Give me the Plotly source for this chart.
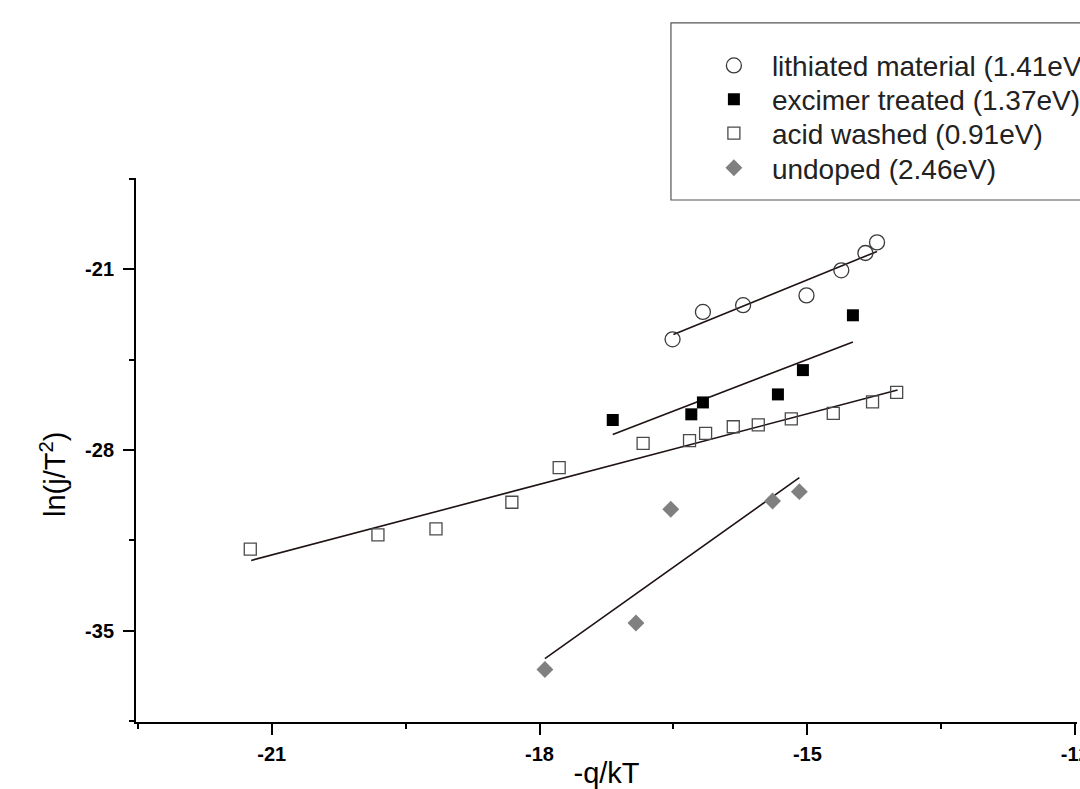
import plotly.graph_objects as go

# ---- data ----
lith_x = [-16.51, -16.17, -15.72, -15.01, -14.62, -14.35, -14.22]
lith_y = [-23.72, -22.66, -22.40, -22.02, -21.05, -20.38, -19.97]
exc_x = [-17.18, -16.30, -16.17, -15.33, -15.05, -14.49]
exc_y = [-26.84, -26.62, -26.16, -25.85, -24.91, -22.79]
acid_x = [-21.24, -19.81, -19.16, -18.31, -17.78, -16.84, -16.32, -16.14,
          -15.83, -15.55, -15.18, -14.71, -14.27, -14.00]
acid_y = [-31.83, -31.28, -31.05, -30.02, -28.68, -27.74, -27.64, -27.36,
          -27.10, -27.03, -26.80, -26.58, -26.14, -25.77]
und_x = [-17.94, -16.92, -16.53, -15.39, -15.09]
und_y = [-36.49, -34.69, -30.29, -29.97, -29.61]

# fitted straight lines (end points)
lith_fit_x = [-16.50, -14.22]
lith_fit_y = [-23.53, -20.32]
exc_fit_x = [-17.18, -14.49]
exc_fit_y = [-27.40, -23.82]
acid_fit_x = [-21.23, -13.99]
acid_fit_y = [-32.27, -25.68]
und_fit_x = [-17.94, -15.09]
und_fit_y = [-36.07, -29.07]

names = ["lithiated material (1.41eV)", "excimer treated (1.37eV)",
         "acid washed (0.91eV)", "undoped (2.46eV)"]

x_tickvals = [-21, -18, -15, -12]
x_ticktext = ["-21", "-18", "-15", "-12"]
y_tickvals = [-21, -28, -35]
y_ticktext = ["-21", "-28", "-35"]

FONT = "Arial, Liberation Sans, sans-serif"
LINE_COLOR = "#1e1212"

fig = go.Figure()

for fx, fy in [(lith_fit_x, lith_fit_y), (exc_fit_x, exc_fit_y),
               (acid_fit_x, acid_fit_y), (und_fit_x, und_fit_y)]:
    fig.add_trace(go.Scatter(x=fx, y=fy, mode="lines", showlegend=False,
                             line=dict(color=LINE_COLOR, width=1.6),
                             hoverinfo="skip"))

fig.add_trace(go.Scatter(x=lith_x, y=lith_y, mode="markers", name=names[0],
                         legend="legend",
                         marker=dict(symbol="circle-open", size=15,
                                     color="#3a3a3a", line=dict(width=1.3))))
fig.add_trace(go.Scatter(x=exc_x, y=exc_y, mode="markers", name=names[1],
                         legend="legend2",
                         marker=dict(symbol="square", size=12, color="#000000")))
fig.add_trace(go.Scatter(x=acid_x, y=acid_y, mode="markers", name=names[2],
                         legend="legend3",
                         marker=dict(symbol="square-open", size=12,
                                     color="#4a4a4a", line=dict(width=1.3))))
fig.add_trace(go.Scatter(x=und_x, y=und_y, mode="markers", name=names[3],
                         legend="legend4",
                         marker=dict(symbol="diamond", size=13, color="#808080")))

# legend frame
fig.add_shape(type="rect", xref="paper", yref="paper",
              x0=0.5685, x1=1.05, y0=0.9596, y1=1.285,
              line=dict(color="#555555", width=1.2), fillcolor="rgba(0,0,0,0)",
              layer="below")

# y-axis title (placed slightly below the axis centre, as in the reference)
fig.add_annotation(text="ln(j/T<sup>2</sup>)", textangle=-90,
                   xref="paper", yref="paper", x=-0.0882, y=0.454,
                   xanchor="center", yanchor="middle", showarrow=False,
                   font=dict(family=FONT, size=29, color="#000000"))

axis_common = dict(
    showline=True, linecolor="#000000", linewidth=2, mirror=False,
    showgrid=False, zeroline=False,
    ticks="outside", ticklen=11, tickwidth=2, tickcolor="#000000",
    tickfont=dict(family=FONT, size=20, color="#000000", weight="bold"),
    title_font=dict(family=FONT, size=29, color="#000000"),
)

fig.update_xaxes(range=[-22.52, -11.98], tickmode="array",
                 tickvals=x_tickvals, ticktext=["<b>%s</b>" % t for t in x_ticktext],
                 minor=dict(ticks="outside", ticklen=5, tickwidth=2,
                            tickcolor="#000000", dtick=1.5, tick0=-22.5),
                 title_text="-q/kT", title_standoff=11, ticklabelstandoff=2,
                 ticklabeloverflow="allow", **axis_common)
fig.update_yaxes(range=[-38.52, -17.48], tickmode="array",
                 tickvals=y_tickvals, ticktext=["<b>%s</b>" % t for t in y_ticktext],
                 minor=dict(ticks="outside", ticklen=5, tickwidth=2,
                            tickcolor="#000000", dtick=3.5, tick0=-17.5),
                 ticklabelstandoff=5,
                 **axis_common)

leg_common = dict(x=0.595, xanchor="left", yanchor="middle",
                  font=dict(family=FONT, size=28, color="#222222"),
                  bgcolor="rgba(0,0,0,0)", borderwidth=0, itemwidth=66)

fig.update_layout(
    width=1080, height=789,
    margin=dict(l=136, r=3, t=178, b=67, autoexpand=False),
    paper_bgcolor="#ffffff", plot_bgcolor="#ffffff",
    font=dict(family=FONT, color="#000000"),
    legend=dict(y=1.2064, **leg_common),
    legend2=dict(y=1.1443, **leg_common),
    legend3=dict(y=1.0818, **leg_common),
    legend4=dict(y=1.0184, **leg_common),
)

fig.write_html("out.html")
